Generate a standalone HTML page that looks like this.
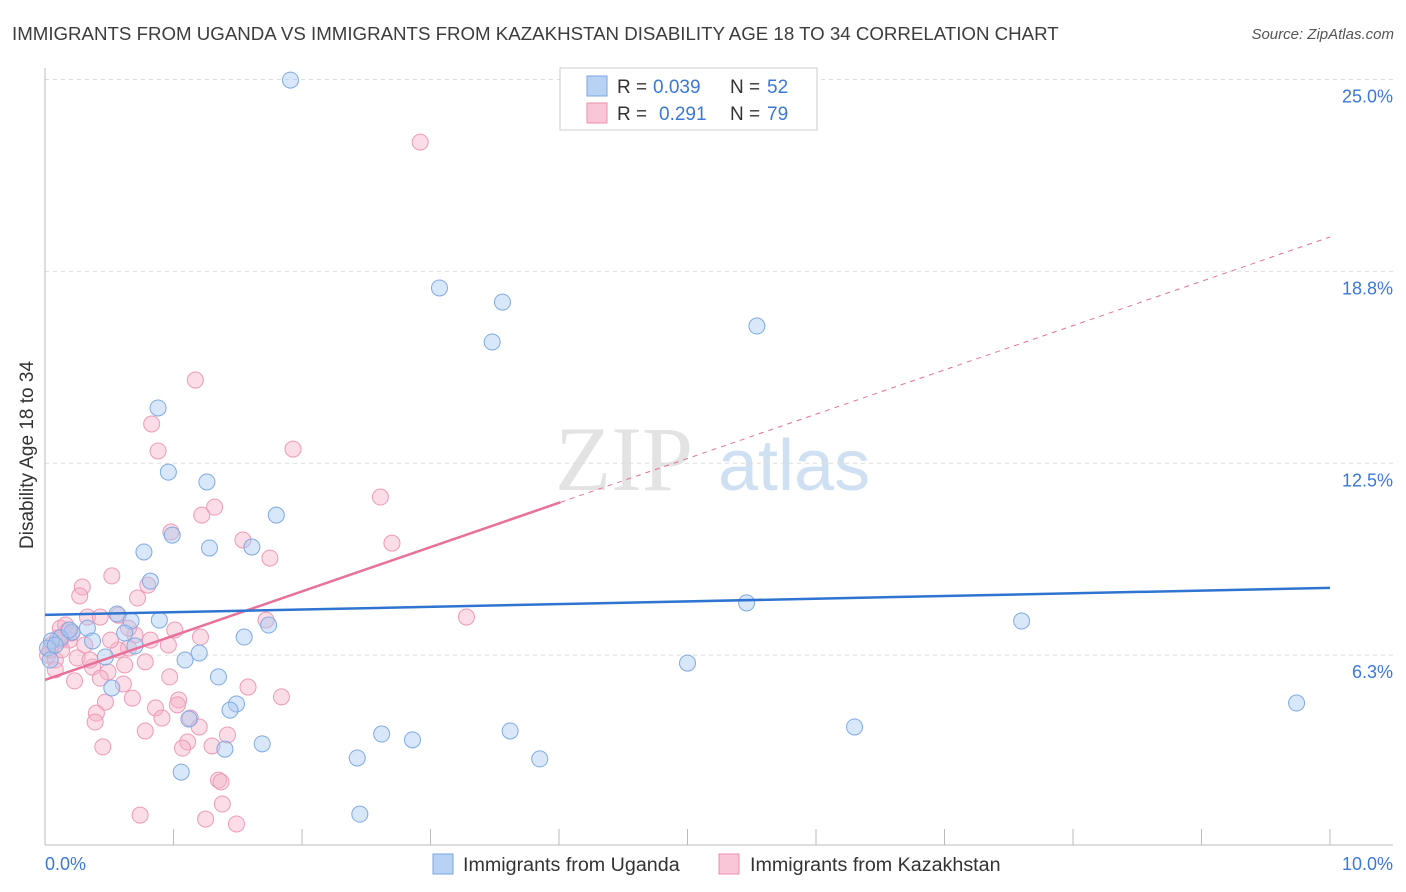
<!DOCTYPE html>
<html><head><meta charset="utf-8">
<style>
body{margin:0;background:#fff;font-family:"Liberation Sans",sans-serif;}
svg{display:block}
</style></head>
<body>
<svg id="chart" width="1406" height="892" xmlns="http://www.w3.org/2000/svg">
<text x="12" y="40" font-size="18.7" fill="#3c3c3c" font-family="Liberation Sans">IMMIGRANTS FROM UGANDA VS IMMIGRANTS FROM KAZAKHSTAN DISABILITY AGE 18 TO 34 CORRELATION CHART</text>
<text x="1394" y="39" font-size="15" fill="#555" text-anchor="end" font-style="italic">Source: ZipAtlas.com</text>
<text transform="translate(33,455) rotate(-90)" font-size="19" fill="#333" text-anchor="middle">Disability Age 18 to 34</text>
<g>
<text x="555" y="490" font-size="92" fill="#e3e3e3" font-family="Liberation Serif">ZIP</text>
<text x="718" y="490" font-size="72" fill="#cfe0f3">atlas</text>
</g>
<g id="grid"></g>
<g id="axes"></g>
<g id="trend"></g>
<g id="points"></g>
<g>
<rect x="560" y="68" width="257" height="62" fill="#fff" stroke="#ccc"/>
<rect x="587" y="76" width="20" height="20" fill="#b8d2f4" stroke="#7aa6e0"/>
<text x="617" y="93" font-size="19" fill="#333">R = </text><text x="653" y="93" font-size="19" fill="#3b78d8">0.039</text>
<text x="730" y="93" font-size="19" fill="#333">N = </text><text x="767" y="93" font-size="19" fill="#3b78d8">52</text>
<rect x="587" y="103" width="20" height="20" fill="#f8c6d6" stroke="#ee8fb0"/>
<text x="617" y="120" font-size="19" fill="#333">R = </text><text x="659" y="120" font-size="19" fill="#3b78d8">0.291</text>
<text x="730" y="120" font-size="19" fill="#333">N = </text><text x="767" y="120" font-size="19" fill="#3b78d8">79</text>
</g>
<g>
<rect x="433" y="854" width="20" height="20" fill="#b8d2f4" stroke="#7aa6e0"/>
<text x="463" y="871" font-size="19.7" fill="#333">Immigrants from Uganda</text>
<rect x="719" y="854" width="20" height="20" fill="#f8c6d6" stroke="#ee8fb0"/>
<text x="750" y="871" font-size="19.7" fill="#333">Immigrants from Kazakhstan</text>
</g>
</svg>
<script>
const yTicks=[6.25,12.5,18.75,25];
const yTickLabels=["6.3%","12.5%","18.8%","25.0%"];
const xTicks=[0,1,2,3,4,5,6,7,8,9,10];
const xEndLabels=["0.0%","10.0%"];
const ugandaX=[1.91,3.07,3.56,3.48,5.54,0.88,0.96,1.26,0.99,1.28,1.61,1.80,0.77,0.82,0.56,0.67,0.89,0.62,0.33,0.21,0.12,0.05,0.02,0.08,0.37,0.47,0.70,1.09,1.20,1.35,0.52,1.55,1.74,1.49,1.44,1.12,1.40,1.69,1.06,2.62,2.86,2.43,3.62,3.85,2.45,5.00,5.46,6.30,7.60,9.74,0.19,0.04];
const ugandaY=[24.98,18.21,17.75,16.45,16.97,14.30,12.21,11.89,10.16,9.74,9.77,10.81,9.61,8.66,7.59,7.36,7.39,6.97,7.13,7.00,6.81,6.71,6.48,6.58,6.71,6.19,6.55,6.09,6.32,5.54,5.18,6.84,7.23,4.66,4.46,4.17,3.19,3.36,2.44,3.68,3.49,2.90,3.78,2.87,1.07,5.99,7.95,3.91,7.36,4.69,7.07,6.09];
const kazX=[2.92,1.17,0.83,0.88,1.93,2.61,1.32,1.22,0.98,1.54,1.75,2.70,0.29,0.52,0.27,0.72,0.80,3.28,1.72,0.33,0.43,0.57,0.70,1.01,1.21,0.96,0.12,0.18,0.19,0.05,0.02,0.08,0.13,0.25,0.37,0.49,0.62,0.78,0.65,0.57,0.43,0.23,0.08,0.61,0.97,1.58,1.84,0.68,0.47,0.40,0.39,0.86,1.04,1.03,0.91,1.13,1.20,0.78,1.42,1.11,1.07,0.45,1.30,1.35,1.37,1.38,0.74,1.25,1.49,0.12,0.16,0.21,0.04,0.10,0.31,0.35,0.82,0.65,0.51];
const kazY=[22.96,15.21,13.78,12.90,12.96,11.40,11.07,10.81,10.26,10.00,9.41,9.90,8.47,8.83,8.18,8.11,8.53,7.49,7.39,7.49,7.49,7.55,6.91,7.07,6.84,6.58,7.13,7.07,6.74,6.58,6.25,6.09,6.42,6.16,5.86,5.70,5.93,6.03,6.48,6.42,5.50,5.41,5.77,5.31,5.54,5.21,4.89,4.85,4.72,4.36,4.07,4.53,4.79,4.63,4.20,4.20,3.91,3.78,3.65,3.42,3.22,3.26,3.29,2.18,2.12,1.40,1.04,0.91,0.75,6.74,7.23,6.97,6.42,6.81,6.58,6.09,6.74,7.13,6.74];
const ugandaTrend=[7.56,8.44];
const kazTrend=[5.44,19.87];
const kazSolidEnd=4.01;

const NS="http://www.w3.org/2000/svg";
const xs=v=>45+v*128.5;
const ys=v=>847-v*30.7;
function mk(tag,attrs,parent){const e=document.createElementNS(NS,tag);for(const k in attrs)e.setAttribute(k,attrs[k]);parent.appendChild(e);return e;}
const grid=document.getElementById('grid'),axes=document.getElementById('axes'),trend=document.getElementById('trend'),pts=document.getElementById('points');
yTicks.forEach((t,i)=>{
 const l=mk('line',{x1:45,x2:1393,y1:ys(t),y2:ys(t),stroke:'#ddd','stroke-dasharray':'4,4'},grid);
 
 
 const tx=mk('text',{x:1393,y:ys(t)+23,'font-size':18,fill:'#3b78d8','text-anchor':'end'},axes);
 tx.textContent=yTickLabels[i];
 
 
});
const ax=mk('line',{x1:45,x2:45,y1:68,y2:845,stroke:'#bbb'},axes);


const bx=mk('line',{x1:45,x2:1393,y1:845,y2:845,stroke:'#bbb'},axes);


xTicks.forEach(t=>{
 const l=mk('line',{x1:xs(t),x2:xs(t),y1:829,y2:845,stroke:'#bbb'},axes);
 
 
});
[[0,'start',45],[10,'end',1393]].forEach((d,i)=>{
 const tx=mk('text',{x:d[2],y:870,'font-size':18,fill:'#3b78d8','text-anchor':d[1]},axes);
 tx.textContent=xEndLabels[i];
 
 
});
function drawPts(X,Y,fill,stroke,name){
 X.forEach((x,i)=>{
  const c=mk('circle',{cx:xs(x),cy:ys(Y[i]),r:8,fill:fill,'fill-opacity':0.45,stroke:stroke,'stroke-width':1},pts);
  
  
 });
}
drawPts(kazX,kazY,'#f5b3c8','#ee9ab8','kazakhstan-point');
drawPts(ugandaX,ugandaY,'#a9c9f2','#80aae2','uganda-point');
const ky=x=>kazTrend[0]+(kazTrend[1]-kazTrend[0])*x/10;
const kd=mk('line',{x1:xs(kazSolidEnd),y1:ys(ky(kazSolidEnd)),x2:xs(10),y2:ys(ky(10)),stroke:'#e8709a','stroke-width':1,'stroke-dasharray':'5,5'},trend);


const ks=mk('line',{x1:xs(0),y1:ys(ky(0)),x2:xs(kazSolidEnd),y2:ys(ky(kazSolidEnd)),stroke:'#e8709a','stroke-width':2.5},pts);


const ub=mk('line',{x1:xs(0),y1:ys(ugandaTrend[0]),x2:xs(10),y2:ys(ugandaTrend[1]),stroke:'#2f74d0','stroke-width':2.5},pts);


</script>
</body></html>
